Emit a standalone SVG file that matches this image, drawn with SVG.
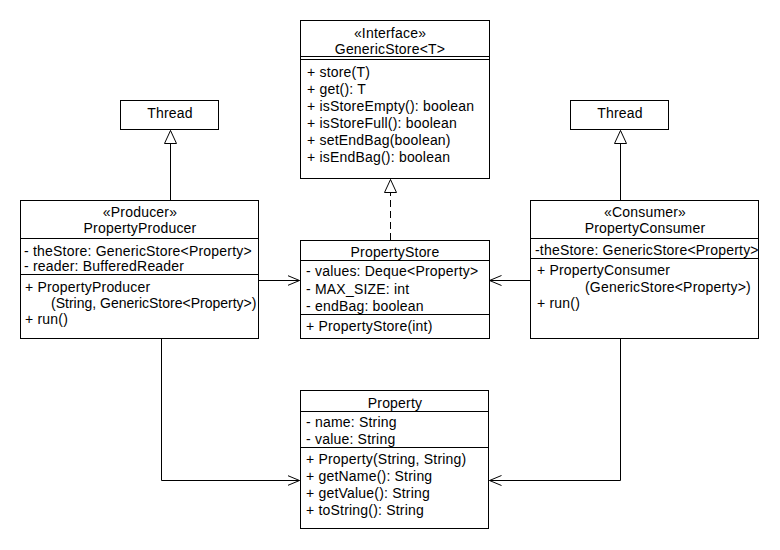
<svg xmlns="http://www.w3.org/2000/svg" width="780" height="550" viewBox="0 0 780 550">
<defs>
<style>
rect.box{fill:#fff;stroke:#000;stroke-width:1}
line.sep{stroke:#000;stroke-width:1}
text{font-family:"Liberation Sans",Arial,sans-serif;font-size:14px;letter-spacing:0.2px;fill:#000}
text.c{text-anchor:middle}
text.tight{letter-spacing:0px}
.conn{fill:none;stroke:#000;stroke-width:1}
.dash{stroke-dasharray:7 4}
</style>
<marker id="open" markerWidth="14" markerHeight="12" refX="12" refY="6" orient="auto" markerUnits="userSpaceOnUse">
<path d="M0,1 L12,6 L0,11" fill="none" stroke="#000" stroke-width="1"/>
</marker>
<marker id="tri" markerWidth="16" markerHeight="16" refX="14" refY="7" orient="auto" markerUnits="userSpaceOnUse">
<path d="M1,1 L14,7 L1,13 Z" fill="#fff" stroke="#000" stroke-width="1"/>
</marker>
</defs>
<rect width="780" height="550" fill="#fff"/>

<g id="connectors">
<line class="conn" x1="170.5" y1="200" x2="170.5" y2="130.5" marker-end="url(#tri)"/>
<line class="conn" x1="620.5" y1="200" x2="620.5" y2="130.5" marker-end="url(#tri)"/>
<line class="conn dash" x1="390.5" y1="240" x2="390.5" y2="179.5" marker-end="url(#tri)"/>
<line class="conn" x1="259" y1="280.5" x2="299.5" y2="280.5" marker-end="url(#open)"/>
<line class="conn" x1="531" y1="280.5" x2="489.5" y2="280.5" marker-end="url(#open)"/>
<polyline class="conn" points="161.5,339 161.5,480.5 299.5,480.5" marker-end="url(#open)"/>
<polyline class="conn" points="620.5,339 620.5,480.5 489.5,480.5" marker-end="url(#open)"/>
</g>

<g id="GenericStore">
<rect class="box" x="300.5" y="20.5" width="189" height="158"/>
<text class="c" x="390" y="38">«Interface»</text>
<text class="c" x="390" y="54">GenericStore&lt;T&gt;</text>
<line class="sep" x1="300.5" y1="56.5" x2="489.5" y2="56.5"/>
<line class="sep" x1="300.5" y1="59.5" x2="489.5" y2="59.5"/>
<text x="307" y="77">+ store(T)</text>
<text x="307" y="94">+ get(): T</text>
<text x="307" y="111">+ isStoreEmpty(): boolean</text>
<text x="307" y="128">+ isStoreFull(): boolean</text>
<text x="307" y="145">+ setEndBag(boolean)</text>
<text x="307" y="162">+ isEndBag(): boolean</text>
</g>

<g id="Thread1">
<rect class="box" x="120.5" y="100.5" width="98" height="29"/>
<text class="c" x="170" y="118">Thread</text>
</g>

<g id="Thread2">
<rect class="box" x="570.5" y="100.5" width="98" height="29"/>
<text class="c" x="620" y="118">Thread</text>
</g>

<g id="PropertyProducer">
<rect class="box" x="20.5" y="200.5" width="238" height="138"/>
<text class="c" x="140" y="217">«Producer»</text>
<text class="c" x="140" y="233">PropertyProducer</text>
<line class="sep" x1="20.5" y1="238.5" x2="258.5" y2="238.5"/>
<text x="24" y="256">- theStore: GenericStore&lt;Property&gt;</text>
<text x="24" y="271">- reader: BufferedReader</text>
<line class="sep" x1="20.5" y1="274.5" x2="258.5" y2="274.5"/>
<text x="25" y="292">+ PropertyProducer</text>
<text class="tight" x="51" y="308">(String, GenericStore&lt;Property&gt;)</text>
<text x="25" y="324">+ run()</text>
</g>

<g id="PropertyStore">
<rect class="box" x="300.5" y="240.5" width="189" height="98"/>
<text class="c" x="395" y="257">PropertyStore</text>
<line class="sep" x1="300.5" y1="260.5" x2="489.5" y2="260.5"/>
<text x="306" y="276">- values: Deque&lt;Property&gt;</text>
<text x="306" y="294">- MAX_SIZE: int</text>
<text x="306" y="311">- endBag: boolean</text>
<line class="sep" x1="300.5" y1="314.5" x2="489.5" y2="314.5"/>
<text x="306" y="331">+ PropertyStore(int)</text>
</g>

<g id="PropertyConsumer">
<rect class="box" x="530.5" y="200.5" width="228" height="138"/>
<text class="c" x="645" y="217">«Consumer»</text>
<text class="c" x="645" y="233">PropertyConsumer</text>
<line class="sep" x1="530.5" y1="238.5" x2="758.5" y2="238.5"/>
<text x="535" y="255">-theStore: GenericStore&lt;Property&gt;</text>
<line class="sep" x1="530.5" y1="258.5" x2="758.5" y2="258.5"/>
<text x="537" y="275">+ PropertyConsumer</text>
<text x="585" y="292">(GenericStore&lt;Property&gt;)</text>
<text x="537" y="308">+ run()</text>
</g>

<g id="Property">
<rect class="box" x="300.5" y="390.5" width="188" height="138"/>
<text class="c" x="395" y="408">Property</text>
<line class="sep" x1="300.5" y1="411.5" x2="488.5" y2="411.5"/>
<text x="306" y="427">- name: String</text>
<text x="306" y="444">- value: String</text>
<line class="sep" x1="300.5" y1="447.5" x2="488.5" y2="447.5"/>
<text x="306" y="464">+ Property(String, String)</text>
<text x="306" y="481">+ getName(): String</text>
<text x="306" y="498">+ getValue(): String</text>
<text x="306" y="515">+ toString(): String</text>
</g>
</svg>
